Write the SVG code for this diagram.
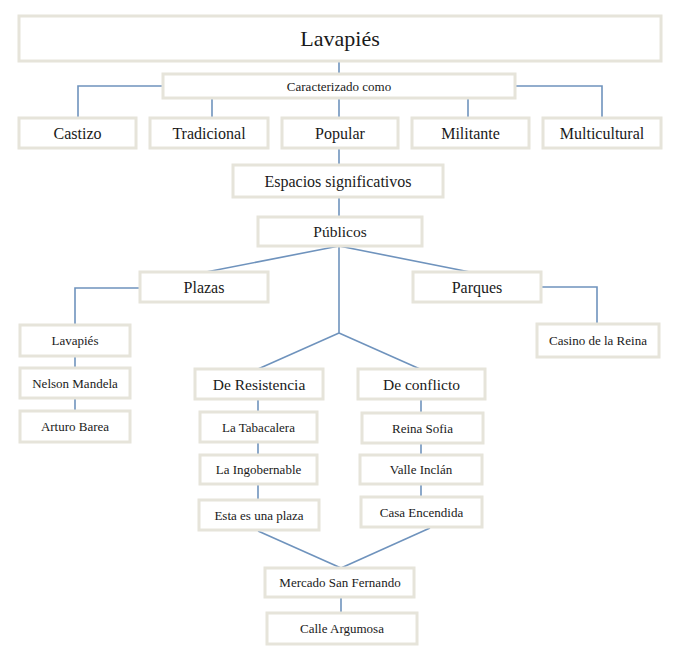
<svg xmlns="http://www.w3.org/2000/svg" width="678" height="661" viewBox="0 0 678 661">
<style>
.box{fill:#ffffff;stroke:#e6e4da;stroke-width:3}
.t{font-family:"Liberation Serif","Times New Roman",serif;fill:#1a1a1a;text-anchor:middle;dominant-baseline:central}
.s13{font-size:13px}
.s16{font-size:16px}
.conn{fill:none;stroke:#6f93bd;stroke-width:1.6}
</style>
<rect width="678" height="661" fill="#ffffff"/>
<g id="connectors" class="conn">
<line x1="339" y1="61" x2="339" y2="74"/>
<polyline points="163,86 78,86 78,118"/>
<line x1="212" y1="98" x2="212" y2="118"/>
<line x1="339" y1="98" x2="339" y2="118"/>
<line x1="468" y1="98" x2="468" y2="118"/>
<polyline points="515,86 602,86 602,118"/>
<line x1="339" y1="148" x2="339" y2="165"/>
<line x1="339" y1="197" x2="339" y2="217"/>
<line x1="339" y1="246" x2="206" y2="272"/>
<line x1="339" y1="246" x2="475" y2="273"/>
<line x1="339" y1="246" x2="339" y2="333"/>
<line x1="339" y1="333" x2="258" y2="369"/>
<line x1="339" y1="333" x2="420" y2="369"/>
<polyline points="140,288 75,288 75,325"/>
<polyline points="541,287 597,287 597,324"/>
<line x1="75" y1="356" x2="75" y2="368"/>
<line x1="75" y1="398" x2="75" y2="411"/>
<line x1="258" y1="399" x2="258" y2="412"/>
<line x1="258" y1="442" x2="258" y2="455"/>
<line x1="258" y1="484" x2="258" y2="500"/>
<line x1="421" y1="399" x2="421" y2="413"/>
<line x1="421" y1="443" x2="421" y2="455"/>
<line x1="421" y1="484" x2="421" y2="497"/>
<line x1="258" y1="531" x2="341" y2="568"/>
<line x1="430" y1="528" x2="341" y2="568"/>
<line x1="341" y1="597" x2="341" y2="613"/>
</g>
<g id="n-lavapies"><rect class="box" x="19" y="16" width="642" height="45"/><text class="t" x="340" y="38.5" font-size="22">Lavapiés</text></g>
<g id="n-caracterizado"><rect class="box" x="163" y="74" width="352" height="24"/><text class="t s13" x="339" y="86">Caracterizado como</text></g>
<g id="n-castizo"><rect class="box" x="19" y="118" width="117" height="30"/><text class="t s16" x="77.5" y="133">Castizo</text></g>
<g id="n-tradicional"><rect class="box" x="150" y="118" width="118" height="30"/><text class="t s16" x="209" y="133">Tradicional</text></g>
<g id="n-popular"><rect class="box" x="282" y="118" width="116" height="30"/><text class="t s16" x="340" y="133">Popular</text></g>
<g id="n-militante"><rect class="box" x="412" y="118" width="117" height="30"/><text class="t s16" x="470.5" y="133">Militante</text></g>
<g id="n-multicultural"><rect class="box" x="543" y="118" width="118" height="30"/><text class="t s16" x="602" y="133">Multicultural</text></g>
<g id="n-espacios"><rect class="box" x="233" y="165" width="210" height="32"/><text class="t s16" x="338" y="181">Espacios significativos</text></g>
<g id="n-publicos"><rect class="box" x="258" y="217" width="164" height="29"/><text class="t" x="340" y="231.5" font-size="15.5">Públicos</text></g>
<g id="n-plazas"><rect class="box" x="140" y="272" width="128" height="30"/><text class="t s16" x="204" y="287">Plazas</text></g>
<g id="n-parques"><rect class="box" x="413" y="272" width="128" height="30"/><text class="t s16" x="477" y="287">Parques</text></g>
<g id="n-lavapies-plaza"><rect class="box" x="20" y="325" width="110" height="31"/><text class="t s13" x="75" y="340.5">Lavapiés</text></g>
<g id="n-nelson"><rect class="box" x="20" y="368" width="110" height="30"/><text class="t s13" x="75" y="383">Nelson Mandela</text></g>
<g id="n-arturo"><rect class="box" x="20" y="411" width="110" height="31"/><text class="t s13" x="75" y="426.5">Arturo Barea</text></g>
<g id="n-casino"><rect class="box" x="537" y="324" width="122" height="33"/><text class="t s13" x="598" y="340.5">Casino de la Reina</text></g>
<g id="n-resistencia"><rect class="box" x="195" y="369" width="128" height="30"/><text class="t" x="259" y="384" font-size="15.5">De Resistencia</text></g>
<g id="n-conflicto"><rect class="box" x="358" y="369" width="127" height="30"/><text class="t" x="421.5" y="384" font-size="15.5">De conflicto</text></g>
<g id="n-tabacalera"><rect class="box" x="200" y="412" width="117" height="30"/><text class="t s13" x="258.5" y="427">La Tabacalera</text></g>
<g id="n-ingobernable"><rect class="box" x="200" y="455" width="117" height="29"/><text class="t s13" x="258.5" y="469.5">La Ingobernable</text></g>
<g id="n-esta-plaza"><rect class="box" x="199" y="500" width="120" height="30"/><text class="t s13" x="259" y="515">Esta es una plaza</text></g>
<g id="n-reina-sofia"><rect class="box" x="362" y="413" width="121" height="30"/><text class="t s13" x="422.5" y="428">Reina Sofia</text></g>
<g id="n-valle-inclan"><rect class="box" x="360" y="455" width="122" height="29"/><text class="t s13" x="421" y="469.5">Valle Inclán</text></g>
<g id="n-casa-encendida"><rect class="box" x="361" y="497" width="121" height="30"/><text class="t s13" x="421.5" y="512">Casa Encendida</text></g>
<g id="n-mercado"><rect class="box" x="265" y="568" width="149" height="29"/><text class="t s13" x="340" y="582.5">Mercado San Fernando</text></g>
<g id="n-argumosa"><rect class="box" x="267" y="613" width="150" height="31"/><text class="t s13" x="342" y="628.5">Calle Argumosa</text></g>
</svg>
